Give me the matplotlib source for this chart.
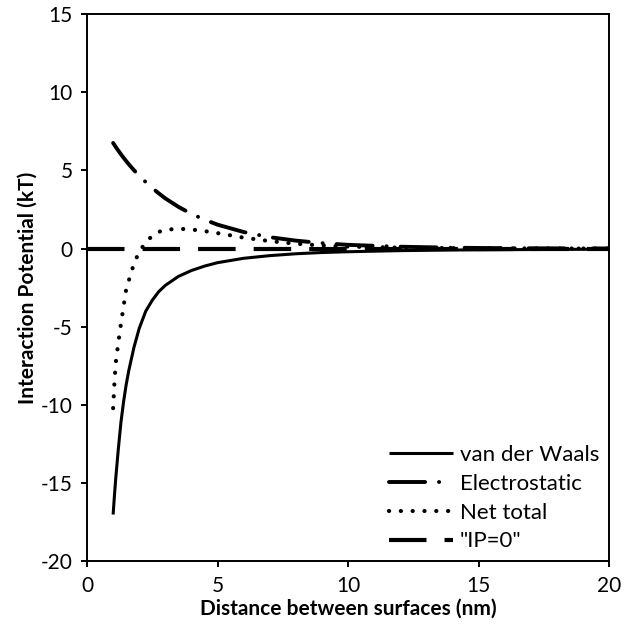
import matplotlib
matplotlib.use("Agg")
import matplotlib.pyplot as plt

plt.rcParams['font.family'] = ['Lato', 'DejaVu Sans']
plt.rcParams['lines.scale_dashes'] = False
plt.rcParams['axes.unicode_minus'] = False

# distance (nm)
dist = [1.0, 1.05, 1.1, 1.2, 1.3, 1.4, 1.5, 1.6, 1.8, 2.0, 2.25, 2.5, 2.75,
        3.0, 3.5, 4.0, 4.5, 5.0, 6.0, 7.0, 8.0, 9.0, 10.0, 12.0, 14.0, 16.0,
        18.0, 20.0]

# interaction potential (kT)
vdw = [-17.0, -15.8, -14.7, -12.8, -11.1, -9.8, -8.7, -7.8, -6.3, -5.1, -4.0,
       -3.3, -2.75, -2.35, -1.78, -1.4, -1.12, -0.9, -0.62, -0.45, -0.33,
       -0.25, -0.2, -0.13, -0.09, -0.07, -0.05, -0.04]
elec = [6.75, 6.63, 6.50, 6.26, 6.03, 5.81, 5.60, 5.39, 5.01, 4.66, 4.25,
        3.87, 3.53, 3.21, 2.67, 2.22, 1.85, 1.53, 1.06, 0.73, 0.51, 0.35,
        0.24, 0.12, 0.055, 0.026, 0.013, 0.006]
net = [-10.2, -8.6, -7.3, -6.0, -4.8, -3.7, -2.6, -2.05, -0.95, -0.2, 0.4,
       0.82, 1.07, 1.2, 1.27, 1.22, 1.12, 0.99, 0.7, 0.48, 0.31, 0.2, 0.13,
       0.06, 0.03, 0.015, 0.008, 0.004]
ip_x = [0, 20]
ip_y = [0, 0]

fig = plt.figure(figsize=(6.26, 6.34), dpi=100)
ax = fig.add_axes([0.139, 0.1144, 0.834, 0.8636])

ax.plot(dist, vdw, color="black", lw=2.2, solid_capstyle="butt",
        label="van der Waals")
ax.plot(dist, elec, color="black", lw=2.8, dashes=(26, 10, 0.1, 10),
        dash_capstyle="round", label="Electrostatic")
ax.plot(dist, net, color="black", lw=3.0, dashes=(0.1, 8.4),
        dash_capstyle="round", label="Net total")
ax.plot(ip_x, ip_y, color="black", lw=3.0, dashes=(27, 13),
        dash_capstyle="butt", label='"IP=0"')

ax.set_xlim(0, 20)
ax.set_ylim(-20, 15)
ax.set_xticks([0, 5, 10, 15, 20])
ax.set_yticks([-20, -15, -10, -5, 0, 5, 10, 15])
ax.tick_params(direction="out", length=4.5, width=1.4, labelsize=15, pad=6,
               colors="black")
for s in ax.spines.values():
    s.set_linewidth(1.4)

ax.set_xlabel("Distance between surfaces (nm)", fontsize=15,
              fontweight="bold", labelpad=2)
ax.set_ylabel("Interaction Potential (kT)", fontsize=15, fontweight="bold",
              labelpad=2)

ax.legend(loc="lower right", frameon=False, fontsize=16, handlelength=2.9,
          handletextpad=0.3, labelspacing=0.4, borderaxespad=0.05)

plt.savefig("out.png", dpi=100)
